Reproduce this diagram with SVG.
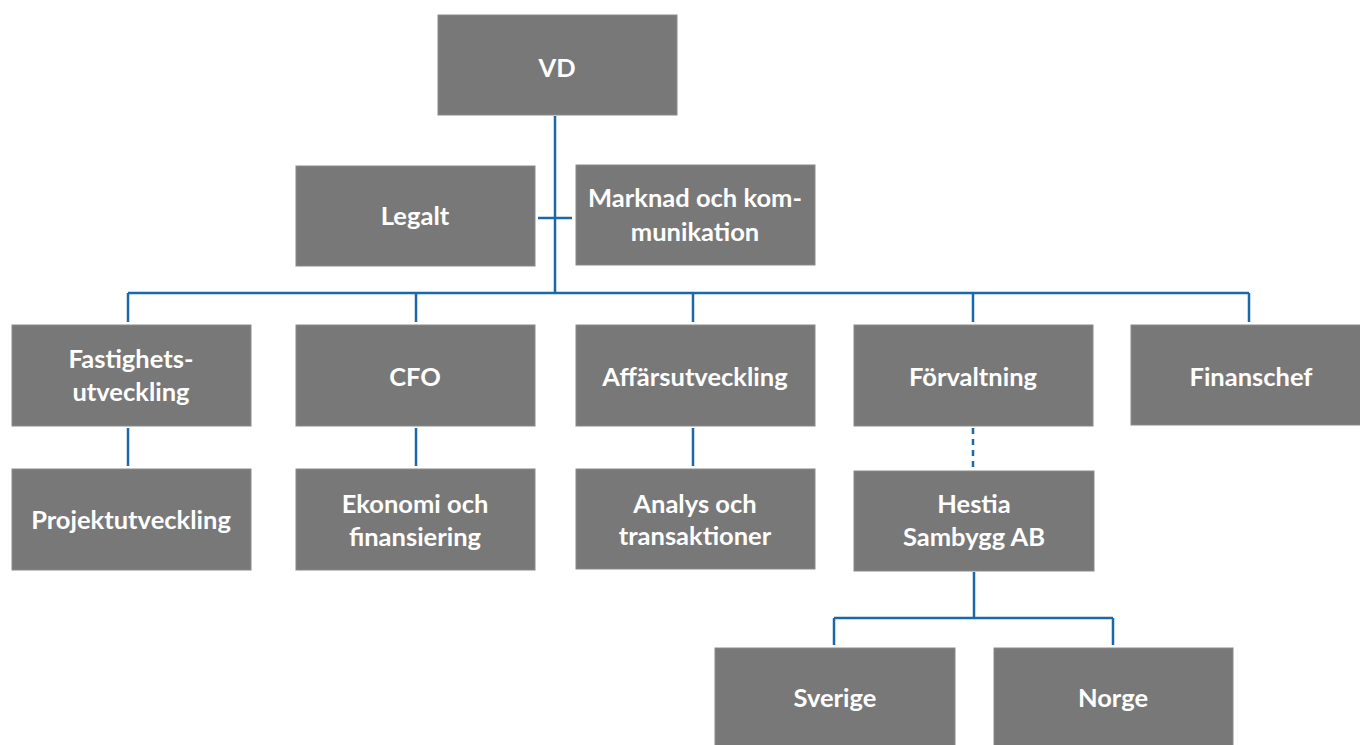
<svg xmlns="http://www.w3.org/2000/svg" width="1360" height="745" viewBox="0 0 1360 745">
<style>
.box{fill:#787878;stroke:#8a8a8a;stroke-width:1}
.t{font-family:Lato,"Open Sans","Liberation Sans",sans-serif;font-weight:bold;font-size:25.5px;fill:#ffffff;text-anchor:middle}
.c{stroke:#1a68a8;stroke-width:2.5;fill:none}
.d{stroke-dasharray:6,5}
</style>
<rect width="1360" height="745" fill="#ffffff"/>
<g id="connectors">
<path class="c" d="M555 116V293M538 218H572M128 293H1249M128 293V322M416 293V322M693 293V322M973 293V322M1249 293V322"/>
<path class="c" d="M128 428V466M416 428V466M693 428V466"/>
<path class="c d" d="M973 428V467"/>
<path class="c" d="M974 572V618M834 618H1113M834 618V645M1113 618V645"/>
</g>
<g id="vd"><rect class="box" x="438" y="15" width="239" height="100"/><text class="t" x="557" y="77">VD</text></g>
<g id="legalt"><rect class="box" x="296" y="166" width="239" height="100"/><text class="t" x="415" y="225">Legalt</text></g>
<g id="marknad"><rect class="box" x="576" y="165" width="239" height="100"/><text class="t" x="695" y="207">Marknad och kom-</text><text class="t" x="695" y="241">munikation</text></g>
<g id="fastighet"><rect class="box" x="12" y="325" width="239" height="101"/><text class="t" x="131" y="368">Fastighets-</text><text class="t" x="131" y="401">utveckling</text></g>
<g id="cfo"><rect class="box" x="296" y="325" width="239" height="101"/><text class="t" x="415" y="386">CFO</text></g>
<g id="affar"><rect class="box" x="576" y="325" width="239" height="101"/><text class="t" x="695" y="386">Affärsutveckling</text></g>
<g id="forvaltning"><rect class="box" x="854" y="325" width="239" height="101"/><text class="t" x="973" y="386">Förvaltning</text></g>
<g id="finanschef"><rect class="box" x="1131" y="325" width="240" height="100"/><text class="t" x="1251" y="386">Finanschef</text></g>
<g id="projekt"><rect class="box" x="12" y="469" width="239" height="101"/><text class="t" x="131" y="529">Projektutveckling</text></g>
<g id="ekonomi"><rect class="box" x="296" y="469" width="239" height="101"/><text class="t" x="415" y="513">Ekonomi och</text><text class="t" x="415" y="546">finansiering</text></g>
<g id="analys"><rect class="box" x="576" y="469" width="239" height="100"/><text class="t" x="695" y="513">Analys och</text><text class="t" x="695" y="545">transaktioner</text></g>
<g id="hestia"><rect class="box" x="854" y="471" width="240" height="100"/><text class="t" x="974" y="513">Hestia</text><text class="t" x="974" y="546">Sambygg AB</text></g>
<g id="sverige"><rect class="box" x="715" y="648" width="240" height="100"/><text class="t" x="835" y="707">Sverige</text></g>
<g id="norge"><rect class="box" x="994" y="648" width="239" height="100"/><text class="t" x="1113" y="707">Norge</text></g>
</svg>
